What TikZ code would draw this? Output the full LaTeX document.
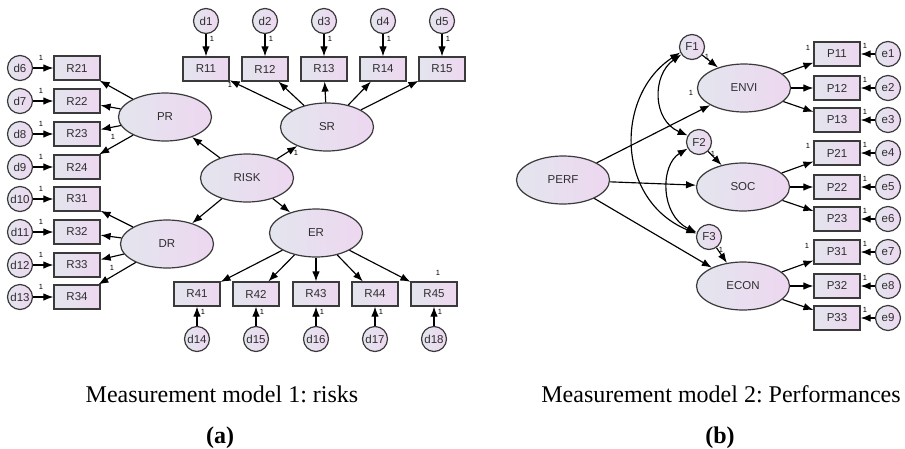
\documentclass[tikz,border=0pt]{standalone}
\usepackage{fontspec}
\setmainfont{Liberation Serif}
\setsansfont{Liberation Sans}
\usetikzlibrary{shapes.geometric,arrows.meta}

\definecolor{shadeL}{HTML}{E3E5EE}
\definecolor{shadeR}{HTML}{EDD7F0}
\definecolor{edge}{HTML}{3A3A3A}
\definecolor{ink}{HTML}{2E2E2E}

\begin{document}
\frenchspacing
\begin{tikzpicture}[x=1pt,y=-1pt,
  sembase/.style={draw=edge, line width=1.2pt, left color=shadeL, right color=shadeR,
    text=ink, font=\sffamily\fontsize{11.5}{13}\selectfont, inner sep=0pt},
  latent/.style={sembase, ellipse, minimum width=93pt, minimum height=48pt},
  obs/.style={sembase, rectangle, minimum width=46pt, minimum height=24pt},
  err/.style={sembase, circle, minimum size=25pt, font=\sffamily\fontsize{11.5}{13}\selectfont},
  regarrow/.style={-{Latex[length=10pt,width=7.5pt]}, line width=1.15pt, black},
  covarrow/.style={{Latex[length=10pt,width=7.5pt]}-{Latex[length=10pt,width=7.5pt]}, line width=1.15pt, black},
  fixone/.style={font=\sffamily\fontsize{7.5}{8}\selectfont, inner sep=0pt, text=black},
  captxt/.style={font=\fontsize{24}{28}\selectfont, inner sep=0pt, anchor=base}
]
\useasboundingbox (0,0) rectangle (905,448);

% ---------------- Model 1: risks ----------------
\node[latent] (PR)   at (165,117) {PR};
\node[latent] (DR)   at (167,244) {DR};
\node[latent] (RISK) at (247,178) {RISK};
\node[latent] (SR)   at (327,127) {SR};
\node[latent] (ER)   at (316,233) {ER};

% top indicators R11--R15
\foreach \i/\x in {1/206,2/265,3/324,4/383,5/442} {
  \node[err] (d\i) at (\x,21) {d\i};
  \node[obs] (R1\i) at (\x,69) {R1\i};
  \draw[regarrow] (d\i) -- (R1\i);
  \node[fixone] (od\i) at (\x+6,39) {1};
  \draw[regarrow] (SR) -- (R1\i);
}

% left indicators R21--R34
\foreach \i/\y/\lab in {6/68/R21,7/101/R22,8/134/R23,9/167/R24,10/199/R31,11/232/R32,12/265/R33,13/297/R34} {
  \node[err] (d\i) at (20,\y) {d\i};
  \node[obs] (\lab) at (77,\y) {\lab};
  \draw[regarrow] (d\i) -- (\lab);
  \node[fixone] (od\i) at (41,\y-10) {1};
}
\foreach \b in {R21,R22,R23,R24} \draw[regarrow] (PR) -- (\b);
\foreach \b in {R31,R32,R33,R34} \draw[regarrow] (DR) -- (\b);

% bottom indicators R41--R45
\foreach \i/\x/\lab in {14/197/R41,15/256/R42,16/316/R43,17/375/R44,18/434/R45} {
  \node[obs] (\lab) at (\x,294) {\lab};
  \node[err] (d\i) at (\x,339) {d\i};
  \draw[regarrow] (d\i) -- (\lab);
  \node[fixone] (od\i) at (\x+6,312) {1};
  \draw[regarrow] (ER) -- (\lab);
}

% second-order paths
\draw[regarrow] (RISK) -- (PR);
\draw[regarrow] (RISK) -- (DR);
\draw[regarrow] (RISK) -- (SR);
\draw[regarrow] (RISK) -- (ER);

% fixed loadings
\node[fixone] (oR11) at (230,85) {1};
\node[fixone] (oSR)  at (296,153) {1};
\node[fixone] (oR24) at (113,137) {1};
\node[fixone] (oR34) at (112,268) {1};
\node[fixone] (oR45) at (438,273) {1};

% ---------------- Model 2: performances ----------------
\node[latent] (PERF) at (563,180) {PERF};
\node[latent] (ENVI) at (744,88)  {ENVI};
\node[latent] (SOC)  at (743,187) {SOC};
\node[latent] (ECON) at (743,286) {ECON};

\node[err] (F1) at (692,47)  {F1};
\node[err] (F2) at (699,142) {F2};
\node[err] (F3) at (709,237) {F3};

\foreach \i/\y/\lab in {1/54/P11,2/88/P12,3/120/P13,4/153/P21,5/187/P22,6/219/P23,7/252/P31,8/286/P32,9/318/P33} {
  \node[obs] (\lab) at (837,\y) {\lab};
  \node[err] (e\i) at (888,\y) {e\i};
  \draw[regarrow] (e\i) -- (\lab);
  \node[fixone] (oe\i) at (865,\y-8) {1};
}
\foreach \b in {P11,P12,P13} \draw[regarrow] (ENVI) -- (\b);
\foreach \b in {P21,P22,P23} \draw[regarrow] (SOC) -- (\b);
\foreach \b in {P31,P32,P33} \draw[regarrow] (ECON) -- (\b);

\draw[regarrow] (PERF) -- (ENVI);
\draw[regarrow] (PERF) -- (SOC);
\draw[regarrow] (PERF) -- (ECON);
\draw[regarrow] (F1) -- (ENVI);
\draw[regarrow] (F2) -- (SOC);
\draw[regarrow] (F3) -- (ECON);

% covariances among disturbances
\draw[covarrow] (F1.215) .. controls (652,75) and (652,120) .. (F2.150);
\draw[covarrow] (F2.210) .. controls (660,165) and (660,215) .. (F3.160);
\draw[covarrow] (F1.205) .. controls (615,95) and (615,200) .. (F3.165);

\node[fixone] (oP11) at (808,48)  {1};
\node[fixone] (oP21) at (808,146) {1};
\node[fixone] (oP31) at (807,246) {1};
\node[fixone] (oF1)  at (707,57)  {1};
\node[fixone] (oPE)  at (691,93)  {1};
\node[fixone] (oF2)  at (713,154) {1};
\node[fixone] (oF3)  at (721,250) {1};

% ---------------- captions ----------------
\node[captxt] (capA) at (222,402) {Measurement model 1: risks};
\node[captxt] (labA) at (220,443) {\textbf{(a)}};
\node[captxt] (capB) at (721,402) {Measurement model 2: Performances};
\node[captxt] (labB) at (720,443) {\textbf{(b)}};
\end{tikzpicture}
\end{document}
